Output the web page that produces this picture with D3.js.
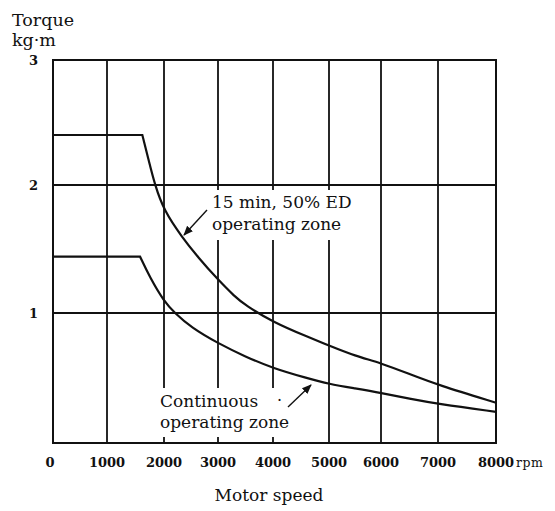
<!DOCTYPE html>
<html>
<head>
<meta charset="utf-8">
<script src="https://cdn.jsdelivr.net/npm/d3@7/dist/d3.min.js"></script>
<style>
  body { margin: 0; background: #fff; }
  text { font-family: 'DejaVu Serif', 'Liberation Serif', serif; fill: #111; }
</style>
</head>
<body>
<svg id="sketch"></svg>
<script>
// motor speed (rpm) and torque (kg·m)
var shortSpeeds = [0, 1620, 1725, 1840, 2000, 2320, 2640, 3000, 3300, 3500, 4000, 4600, 5000, 5500, 6000, 6500, 7000, 8000];
var shortTorque = [2.4, 2.4, 2.21, 2.0, 1.8, 1.6, 1.43, 1.26, 1.13, 1.06, 0.93, 0.82, 0.75, 0.67, 0.615, 0.53, 0.446, 0.31];
var contSpeeds = [0, 1580, 1750, 2000, 2200, 2500, 3000, 3500, 4000, 4600, 5000, 5500, 6000, 6500, 7000, 8000];
var contTorque = [1.44, 1.44, 1.28, 1.09, 1.0, 0.89, 0.767, 0.664, 0.575, 0.5, 0.454, 0.42, 0.385, 0.34, 0.30, 0.24];
var xTicks = [0, 1000, 2000, 3000, 4000, 5000, 6000, 7000, 8000];
var yTicks = [0, 1, 2, 3];

var svg = d3.select('#sketch').attr('width', 555).attr('height', 511);

// the printed grid is not quite even, so the scales follow it piece by piece
var x = d3.scaleLinear().domain(xTicks).range([53, 107, 164, 218, 273, 329, 381, 438, 496]);
var y = d3.scaleLinear().domain(yTicks).range([443, 313, 185, 60]);

var ink = '#111';

// grid
svg.append('g').selectAll('line')
    .data(xTicks.slice(1, -1))
    .join('line')
    .attr('x1', d => x(d)).attr('x2', d => x(d))
    .attr('y1', y(3)).attr('y2', y(0))
    .attr('stroke', ink).attr('stroke-width', 1.8);

svg.append('g').selectAll('line')
    .data(yTicks.slice(1, -1))
    .join('line')
    .attr('x1', x(0)).attr('x2', x(8000))
    .attr('y1', d => y(d)).attr('y2', d => y(d))
    .attr('stroke', ink).attr('stroke-width', 1.8);

// white boxes behind the labels cut the grid
svg.append('rect').attr('x', 207).attr('y', 190).attr('width', 150).attr('height', 50).attr('fill', '#fff');
svg.append('rect').attr('x', 157).attr('y', 388).attr('width', 140).attr('height', 49).attr('fill', '#fff');

// frame
svg.append('rect')
    .attr('x', x(0)).attr('y', y(3))
    .attr('width', x(8000) - x(0)).attr('height', y(0) - y(3))
    .attr('fill', 'none').attr('stroke', ink).attr('stroke-width', 2);

// curves: flat part, then a smooth fall from the corner
function curvePath(speeds, torque) {
    var pts = speeds.map((s, i) => [x(s), y(torque[i])]);
    var fall = d3.line().curve(d3.curveBasis)(pts.slice(1));
    return 'M' + pts[0][0] + ',' + pts[0][1] + 'L' + fall.slice(1);
}

[[shortSpeeds, shortTorque], [contSpeeds, contTorque]].forEach(function(s) {
    svg.append('path')
	.attr('d', curvePath(s[0], s[1]))
	.attr('fill', 'none')
	.attr('stroke', ink)
	.attr('stroke-width', 2.2);
});

// axis labels
svg.append('text').attr('x', 12).attr('y', 26).text('Torque').style('font-size', '17.5px');
svg.append('text').attr('x', 12).attr('y', 46).text('kg·m').style('font-size', '17.5px');

svg.append('g').selectAll('text')
    .data(yTicks.slice(1))
    .join('text')
    .attr('x', 38).attr('y', d => y(d) + 5)
    .attr('text-anchor', 'end')
    .style('font-size', '13px').style('font-weight', 'bold')
    .text(d => d);

svg.append('g').selectAll('text')
    .data(xTicks)
    .join('text')
    .attr('x', d => x(d) - (d == 0 ? 3 : 0)).attr('y', 467)
    .attr('text-anchor', 'middle')
    .style('font-size', '13px').style('font-weight', 'bold')
    .text(d => d);

svg.append('text').attr('x', 516).attr('y', 467).text('rpm')
    .style('font-size', '12.5px').style('letter-spacing', '0.5px');
svg.append('text').attr('x', 269).attr('y', 501).attr('text-anchor', 'middle')
    .text('Motor speed').style('font-size', '17px');

// annotations
svg.append('text').attr('x', 212).attr('y', 208).text('15 min, 50% ED').style('font-size', '17px');
svg.append('text').attr('x', 212).attr('y', 230).text('operating zone').style('font-size', '17px');
svg.append('text').attr('x', 160).attr('y', 407).text('Continuous').style('font-size', '17px');
svg.append('text').attr('x', 160).attr('y', 428).text('operating zone').style('font-size', '17px');
svg.append('text').attr('x', 277).attr('y', 406).text('·').style('font-size', '16px');

svg.append('defs').append('marker')
    .attr('id', 'head')
    .attr('viewBox', '0 0 10 10')
    .attr('refX', 9).attr('refY', 5)
    .attr('markerWidth', 7).attr('markerHeight', 7)
    .attr('orient', 'auto')
    .append('path').attr('d', 'M0,1 L10,5 L0,9 z').attr('fill', ink);

svg.append('line').attr('x1', 207).attr('y1', 210).attr('x2', 184).attr('y2', 235)
    .attr('stroke', ink).attr('stroke-width', 1.4).attr('marker-end', 'url(#head)');
svg.append('line').attr('x1', 288).attr('y1', 407).attr('x2', 311).attr('y2', 385)
    .attr('stroke', ink).attr('stroke-width', 1.4).attr('marker-end', 'url(#head)');
</script>
</body>
</html>
